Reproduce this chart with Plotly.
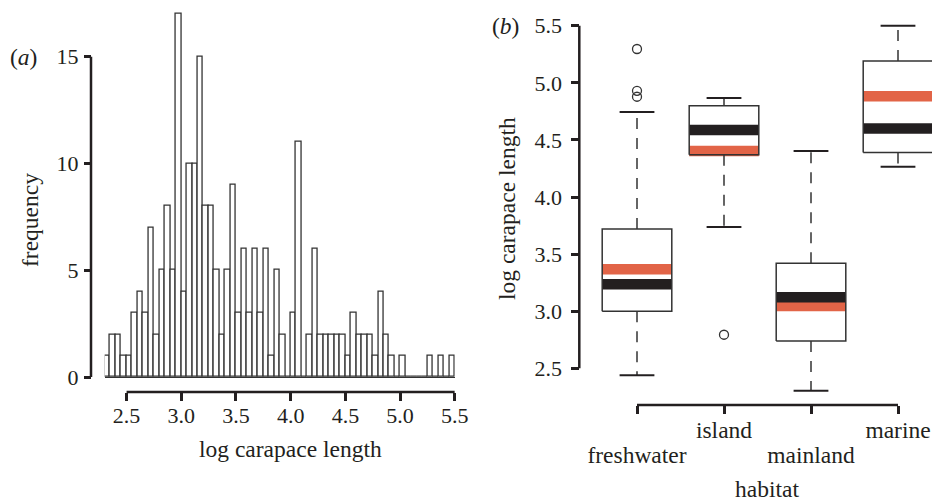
import plotly.graph_objects as go

# ---------------- data: panel (a) histogram ----------------
bin_start = 2.3
bin_width = 0.05
counts = [1, 2, 2, 1, 1, 3, 4, 3, 7, 2, 5, 8, 5, 17, 4, 10, 10, 15, 8, 8,
          5, 2, 5, 9, 3, 6, 3, 6, 3, 6, 1, 5, 2, 0, 3, 11, 0, 2, 6, 2,
          2, 2, 2, 2, 1, 3, 2, 2, 2, 1, 4, 2, 1, 0, 1, 0, 0, 0, 0, 1,
          0, 1, 0, 1]
hist_xticks = [2.5, 3.0, 3.5, 4.0, 4.5, 5.0, 5.5]
hist_yticks = [0, 5, 10, 15]

# ---------------- data: panel (b) boxplot ----------------
habitats = ["freshwater", "island", "mainland", "marine"]
q1 = [3.00, 4.37, 2.74, 4.39]
q3 = [3.72, 4.80, 3.42, 5.19]
median_vals = [3.235, 4.587, 3.122, 4.600]
mean_vals = [3.367, 4.403, 3.046, 4.882]
whisker_low = [2.44, 3.737, 2.304, 4.265]
whisker_high = [4.745, 4.867, 4.403, 5.50]
outlier_group = [0, 0, 0, 1]
outlier_vals = [5.296, 4.93, 4.878, 2.794]
box_yticks = [2.5, 3.0, 3.5, 4.0, 4.5, 5.0, 5.5]

# ---------------- styling ----------------
W, H = 932, 501
INK = "#231F20"
GREY = "#333333"
RED = "#E26447"
FONT = "Liberation Serif"
TICK_SIZE = 22
TEXT_SIZE = 23.5


def px_x(p):
    return p / W


def px_y(p):
    return 1 - p / H


fig = go.Figure()

# ---- histogram ----
centers = [bin_start + bin_width * (i + 0.5) for i in range(len(counts))]
fig.add_trace(go.Bar(
    x=centers, y=counts, width=bin_width,
    marker=dict(color="white", line=dict(color=GREY, width=1.3)),
    xaxis="x", yaxis="y", showlegend=False,
))

# ---- boxplot ----
half = 0.4
cap = 0.2
n = len(habitats)

# coloured bands (mean in red, median in black)
for vals, col in ((mean_vals, RED), (median_vals, INK)):
    bx, by = [], []
    for i in range(n):
        bx += [i - half, i + half, None]
        by += [vals[i], vals[i], None]
    fig.add_trace(go.Scatter(x=bx, y=by, mode="lines",
                             line=dict(color=col, width=10.5),
                             xaxis="x2", yaxis="y2", showlegend=False,
                             hoverinfo="skip", cliponaxis=False))

# box outlines
bx, by = [], []
for i in range(n):
    l, r = i - half, i + half
    bx += [l, r, r, l, l, None]
    by += [q1[i], q1[i], q3[i], q3[i], q1[i], None]
fig.add_trace(go.Scatter(x=bx, y=by, mode="lines",
                         line=dict(color=GREY, width=1.5),
                         xaxis="x2", yaxis="y2", showlegend=False,
                         hoverinfo="skip", cliponaxis=False))

# dashed whiskers
wx, wy = [], []
for i in range(n):
    wx += [i, i, None, i, i, None]
    wy += [q3[i], whisker_high[i], None, q1[i], whisker_low[i], None]
fig.add_trace(go.Scatter(x=wx, y=wy, mode="lines",
                         line=dict(color=GREY, width=1.5, dash="11px,9px"),
                         xaxis="x2", yaxis="y2", showlegend=False,
                         hoverinfo="skip", cliponaxis=False))

# whisker caps
cx, cy = [], []
for i in range(n):
    for v in (whisker_high[i], whisker_low[i]):
        cx += [i - cap, i + cap, None]
        cy += [v, v, None]
fig.add_trace(go.Scatter(x=cx, y=cy, mode="lines",
                         line=dict(color=INK, width=2),
                         xaxis="x2", yaxis="y2", showlegend=False,
                         hoverinfo="skip", cliponaxis=False))

# outliers
fig.add_trace(go.Scatter(x=outlier_group, y=outlier_vals, mode="markers",
                         marker=dict(symbol="circle-open", size=9,
                                     color=GREY, line=dict(width=1.3)),
                         xaxis="x2", yaxis="y2", showlegend=False,
                         cliponaxis=False))

# helper empty trace for the overlaying label axis
fig.add_trace(go.Scatter(x=[None], y=[None], xaxis="x3", yaxis="y2",
                         showlegend=False, hoverinfo="skip"))

tickfont = dict(family=FONT, size=TICK_SIZE, color=INK)

# panel (a) geometry
a_x0, a_x1 = 104.7, 454.8
a_y0, a_y1 = 9.8, 377.0
a_xpos, a_ypos = 392.0, 91.0
# panel (b) geometry
b_x0, b_x1 = 593.0, 932.0
b_y0, b_y1 = 20.0, 395.0
b_xpos, b_ypos = 405.0, 579.3

common = dict(showgrid=False, showline=False, ticks="outside",
              tickcolor=INK, tickwidth=2.5, ticklen=8, tickfont=tickfont,
              automargin=False, fixedrange=True)

fig.update_layout(
    width=W, height=H,
    margin=dict(l=0, r=0, t=0, b=0),
    paper_bgcolor="white", plot_bgcolor="white",
    bargap=0,
    font=dict(family=FONT, color=INK),
    xaxis=dict(domain=[px_x(a_x0), px_x(a_x1)], range=[2.3, 5.5],
               anchor="free", position=px_y(a_xpos),
               tickvals=hist_xticks, tickformat=".1f", zeroline=False,
               ticklabelstandoff=-4, **common),
    yaxis=dict(domain=[px_y(a_y1), px_y(a_y0)], range=[0, 17.2],
               anchor="free", position=px_x(a_ypos),
               tickvals=hist_yticks, zeroline=True, zerolinecolor=GREY,
               zerolinewidth=1.3, ticklabelstandoff=1,
               **{**common, "ticklen": 7}),
    xaxis2=dict(domain=[px_x(b_x0), px_x(b_x1)],
                range=[(b_x0 - 637) / 87, (b_x1 - 637) / 87],
                anchor="free", position=px_y(b_xpos),
                tickvals=list(range(n)),
                ticktext=["" if i % 2 == 0 else habitats[i] for i in range(n)],
                zeroline=False, ticklabelstandoff=-4,
                **{**common, "tickfont": dict(family=FONT, size=TEXT_SIZE, color=INK)}),
    xaxis3=dict(overlaying="x2", matches="x2",
                anchor="free", position=px_y(b_xpos),
                tickvals=list(range(n)),
                ticktext=[habitats[i] if i % 2 == 0 else "" for i in range(n)],
                showgrid=False, showline=False, zeroline=False, ticks="",
                ticklen=0, ticklabelstandoff=33, automargin=False,
                tickfont=dict(family=FONT, size=TEXT_SIZE, color=INK)),
    yaxis2=dict(domain=[px_y(b_y1), px_y(b_y0)],
                range=[2.5 - (b_y1 - 368.3) / 114.2, 5.5 + (25.7 - b_y0) / 114.2],
                anchor="free", position=px_x(b_ypos),
                tickvals=box_yticks, tickformat=".1f", zeroline=False,
                ticklabelstandoff=5, **common),
)

# R-style axis lines spanning first to last tick
line_style = dict(color=INK, width=2.5)
shapes = [
    dict(type="line", xref="x", yref="paper", x0=hist_xticks[0], x1=hist_xticks[-1],
         y0=px_y(a_xpos), y1=px_y(a_xpos), line=line_style),
    dict(type="line", xref="paper", yref="y", x0=px_x(a_ypos), x1=px_x(a_ypos),
         y0=hist_yticks[0], y1=hist_yticks[-1], line=line_style),
    dict(type="line", xref="x2", yref="paper", x0=0, x1=n - 1,
         y0=px_y(b_xpos), y1=px_y(b_xpos), line=line_style),
    dict(type="line", xref="paper", yref="y2", x0=px_x(b_ypos), x1=px_x(b_ypos),
         y0=box_yticks[0], y1=box_yticks[-1], line=line_style),
]
fig.update_layout(shapes=shapes)

tf = dict(family=FONT, size=TEXT_SIZE, color=INK)
annotations = [
    dict(text="(<i>a</i>)", x=px_x(23), y=px_y(57), xref="paper", yref="paper",
         showarrow=False, font=tf, xanchor="center", yanchor="middle"),
    dict(text="(<i>b</i>)", x=px_x(505), y=px_y(26), xref="paper", yref="paper",
         showarrow=False, font=tf, xanchor="center", yanchor="middle"),
    dict(text="frequency", x=px_x(30), y=px_y(220), xref="paper", yref="paper",
         showarrow=False, font=tf, textangle=-90, xanchor="center", yanchor="middle"),
    dict(text="log carapace length", x=px_x(290), y=px_y(449), xref="paper", yref="paper",
         showarrow=False, font=tf, xanchor="center", yanchor="middle"),
    dict(text="log carapace length", x=px_x(507), y=px_y(208), xref="paper", yref="paper",
         showarrow=False, font=tf, textangle=-90, xanchor="center", yanchor="middle"),
    dict(text="habitat", x=px_x(767), y=px_y(489), xref="paper", yref="paper",
         showarrow=False, font=tf, xanchor="center", yanchor="middle"),
]
fig.update_layout(annotations=annotations)

fig.write_html(
    "out.html",
    config={"displayModeBar": False},
    post_script="document.body.style.margin='0px';"
                "document.body.style.overflow='hidden';",
)
